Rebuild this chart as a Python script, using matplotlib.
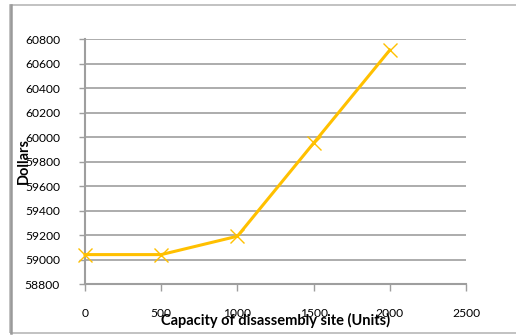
import matplotlib.pyplot as plt
from matplotlib.patches import Rectangle

# capacity of the disassembly site vs total cost
capacity = [0, 500, 1000, 1500, 2000]
dollars = [59040, 59040, 59190, 59950, 60710]

x_ticks = [0, 500, 1000, 1500, 2000, 2500]
y_ticks = [58800, 59000, 59200, 59400, 59600, 59800, 60000, 60200, 60400, 60600, 60800]

plt.rcParams['font.family'] = ['Lato', 'DejaVu Sans']

fig = plt.figure(figsize=(5.16, 3.35), dpi=100)
fig.patch.set_facecolor('white')

# chart frame
frame = Rectangle((10 / 516, 2 / 335), 1.0, 328 / 335, transform=fig.transFigure,
                  fill=False, edgecolor='#b8b8b8', linewidth=1.2, zorder=0)
fig.patches.append(frame)
fig.add_artist(plt.Line2D([10.5 / 516, 10.5 / 516], [2 / 335, 330 / 335],
                          color='#9a9a9a', linewidth=1.8, transform=fig.transFigure))

ax = fig.add_axes([85 / 516, 1 - 284 / 335, 381 / 516, 245 / 335])

ax.plot(capacity, dollars, color='#FFC000', linewidth=2.2, marker='x',
        markersize=10, markeredgewidth=1.0, clip_on=False, zorder=3)

ax.set_xlim(0, 2500)
ax.set_ylim(58800, 60800)
ax.set_xticks(x_ticks)
ax.set_yticks(y_ticks)
ax.set_xticklabels([str(v) for v in x_ticks])
ax.set_yticklabels([str(v) for v in y_ticks])

ax.yaxis.grid(True, color='#9e9e9e', linewidth=1.2)
ax.set_axisbelow(True)

for side in ['top', 'right']:
    ax.spines[side].set_visible(False)
for side in ['left', 'bottom']:
    ax.spines[side].set_color('#9e9e9e')
    ax.spines[side].set_linewidth(1.5)

ax.tick_params(axis='y', direction='out', length=4, width=1, color='#9e9e9e',
               pad=14, labelsize=8.7, labelcolor='black')
ax.tick_params(axis='x', direction='out', length=5, width=1, color='#9e9e9e',
               pad=12, labelsize=8.7, labelcolor='black')

ax.set_xlabel('Capacity of disassembly site (Units)', fontsize=10.5, fontweight='bold')
ax.xaxis.set_label_coords(0.5, -0.147)
ax.xaxis.label.set_va('center')
ax.set_ylabel('Dollars', fontsize=10.5, fontweight='bold')
ax.yaxis.set_label_coords(-0.16, 0.5)
ax.yaxis.label.set_va('center')

fig.savefig('out.png', dpi=100)
